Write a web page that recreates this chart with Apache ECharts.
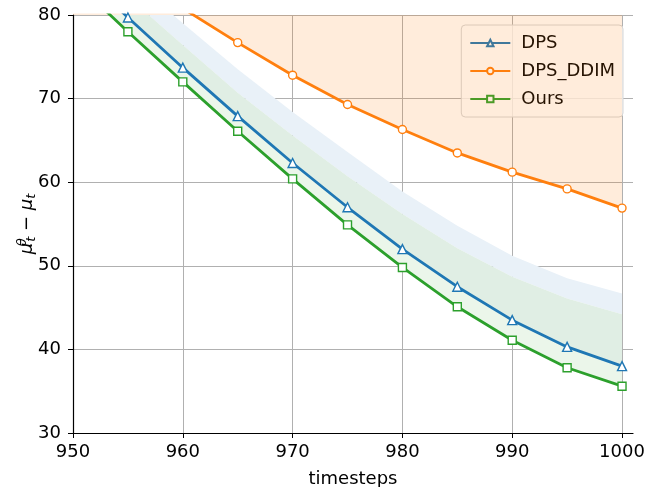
<!DOCTYPE html>
<html>
<head>
<meta charset="utf-8">
<script src="https://cdn.jsdelivr.net/npm/echarts@6/dist/echarts.min.js"></script>
<style>
  html, body { margin: 0; padding: 0; background: #fff; }
  #chart { width: 647px; height: 487px; }
</style>
</head>
<body>
<div id="chart"></div>
<script>
const timesteps = [950, 955, 960, 965, 970, 975, 980, 985, 990, 995, 1000]
const dps = [86.0, 79.7, 73.7, 67.9, 62.3, 57.0, 52.0, 47.5, 43.5, 40.3, 38.0]
const dpsDdim = [90.2, 85.3, 80.8, 76.7, 72.8, 69.3, 66.3, 63.5, 61.2, 59.2, 56.9]
const ours = [84.2, 78.0, 72.0, 66.1, 60.4, 54.9, 49.8, 45.1, 41.1, 37.8, 35.6]
const dpsUpper = [90.8, 84.7, 79.0, 73.5, 68.4, 63.6, 58.9, 54.8, 51.2, 48.5, 46.7]
const oursUpper = [88.2, 82.2, 76.4, 70.7, 65.6, 60.7, 56.2, 52.1, 48.7, 46.1, 44.2]
const xTicks = [950, 960, 970, 980, 990, 1000]
const yTicks = [30, 40, 50, 60, 70, 80]

const BLUE = '#1f77b4', ORANGE = '#ff7f0e', GREEN = '#2ca02c'
const FONT = 'DejaVu Sans'
const FS = 18

const pairs = ys => timesteps.map((t, i) => [t, ys[i]])

// shaded region between lo and hi, one polygon through the axes
const band = (name, lo, hi, fill) => ({
  name, type: 'custom', silent: true, z: 1,
  data: timesteps.map((t, i) => [t, lo[i], hi[i]]),
  encode: { x: 0, y: [1, 2] },
  renderItem: (params, api) => {
    if (params.dataIndex !== 0) return null
    const top = timesteps.map((t, i) => api.coord([t, hi[i]]))
    const bottom = timesteps.map((t, i) => api.coord([t, lo[i]])).reverse()
    const cs = params.coordSys
    return {
      type: 'polygon',
      shape: { points: top.concat(bottom) },
      style: { fill, stroke: null },
      clipPath: { type: 'rect', shape: { x: cs.x, y: cs.y, width: cs.width, height: cs.height } }
    }
  }
})

const mainLine = (name, ys, color, symbol, size) => ({
  name, type: 'line', data: pairs(ys), color,
  symbol, symbolSize: size, showAllSymbol: true, z: 5,
  lineStyle: { width: 2.8, color },
  itemStyle: { color: '#fff', borderColor: color, borderWidth: 1.4 }
})

const chart = echarts.init(document.getElementById('chart'))
chart.setOption({
  backgroundColor: '#fff',
  animation: false,
  textStyle: { fontFamily: FONT },
  grid: { left: 73, right: 14, top: 15, bottom: 54, containLabel: false, outerBoundsMode: 'none' },
  legend: {
    data: ['DPS', 'DPS_DDIM', 'Ours'],
    orient: 'vertical',
    right: 24, top: 25,
    itemWidth: 40, itemHeight: 8, itemGap: 10,
    padding: [9, 8, 9, 8],
    backgroundColor: 'rgba(255,255,255,0.8)',
    borderColor: '#d6d6d6', borderWidth: 1, borderRadius: 4,
    textStyle: { fontFamily: FONT, fontSize: FS, color: '#000', padding: [0, 0, 0, 6] }
  },
  xAxis: {
    type: 'value', min: 950, max: 1001, interval: 10,
    name: 'timesteps', nameLocation: 'middle', nameGap: 37,
    nameTextStyle: { fontFamily: FONT, fontSize: FS, color: '#000' },
    axisLine: { lineStyle: { color: '#000', width: 1.2 } },
    axisTick: { customValues: xTicks, length: 5, lineStyle: { color: '#000' } },
    axisLabel: {
      customValues: xTicks, fontFamily: FONT, fontSize: FS, color: '#000', margin: 10,
      formatter: v => String(v)
    },
    splitLine: { show: true, lineStyle: { color: '#b0b0b0', width: 1 } }
  },
  yAxis: {
    type: 'value', min: 30, max: 80, interval: 10,
    name: '{i|μ}{sup|θ}{sub|t}{n| − }{i|μ}{sub|t}',
    nameLocation: 'middle', nameGap: 34, nameRotate: 90, nameMoveOverlap: false,
    nameTextStyle: {
      fontFamily: FONT, fontSize: FS, color: '#000',
      rich: {
        i: { fontFamily: FONT, fontSize: FS, fontStyle: 'italic', color: '#000' },
        n: { fontFamily: FONT, fontSize: FS, color: '#000' },
        sup: { fontFamily: FONT, fontSize: 13, fontStyle: 'italic', color: '#000', padding: [0, 0, 10, 0], width: 1 },
        sub: { fontFamily: FONT, fontSize: 13, fontStyle: 'italic', color: '#000', padding: [8, 0, 0, 0] }
      }
    },
    axisLine: { show: true, lineStyle: { color: '#000', width: 1.2 } },
    axisTick: { show: true, length: 5, lineStyle: { color: '#000' } },
    axisLabel: { customValues: yTicks, fontFamily: FONT, fontSize: FS, color: '#000', margin: 12 },
    splitLine: { show: true, lineStyle: { color: '#b0b0b0', width: 1 } }
  },
  series: [
    // blue only, blue and green overlapping, green only
    band('dpsOnly', oursUpper, dpsUpper, 'rgb(233,241,248)'),
    band('overlap', dps, oursUpper, 'rgb(224,238,228)'),
    band('oursOnly', ours, dps, 'rgb(235,246,234)'),
    Object.assign(mainLine('DPS_DDIM', dpsDdim, ORANGE, 'circle', 8), {
      areaStyle: { origin: 'end', color: 'rgba(255,127,14,0.15)', opacity: 1 }
    }),
    mainLine('DPS', dps, BLUE, 'triangle', 9),
    mainLine('Ours', ours, GREEN, 'rect', 8)
  ]
})
</script>
</body>
</html>
